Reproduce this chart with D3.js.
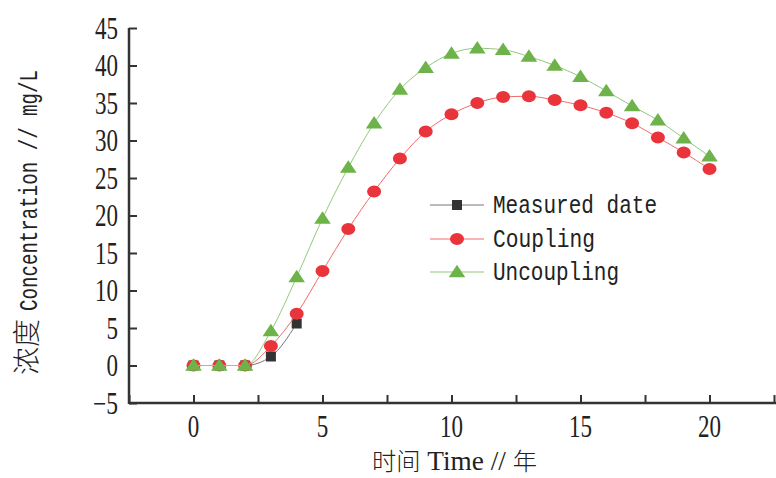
<!DOCTYPE html>
<html>
<head>
<meta charset="utf-8">
<script src="https://cdn.jsdelivr.net/npm/d3@7"></script>
<style>
  body { margin: 0; background: #fff; }
</style>
</head>
<body>
<script>
// data
var years = [0, 1, 2, 3, 4, 5, 6, 7, 8, 9, 10, 11, 12, 13, 14, 15, 16, 17, 18, 19, 20];
var measuredYears = [0, 1, 2, 3, 4];
var measured = [0, 0, 0, 1.2, 5.6];
var coupling = [0, 0, 0, 2.6, 6.9, 12.6, 18.2, 23.2, 27.6, 31.2, 33.5, 35.0, 35.8, 35.9, 35.4, 34.7, 33.7, 32.3, 30.4, 28.4, 26.2];
var uncoupling = [0, 0, 0, 4.6, 11.8, 19.6, 26.4, 32.3, 36.8, 39.7, 41.6, 42.3, 42.1, 41.2, 40.0, 38.5, 36.6, 34.6, 32.7, 30.3, 27.9];
var xTicks = [-2.5, 0, 2.5, 5, 7.5, 10, 12.5, 15, 17.5, 20, 22.5];
var xLabels = [0, 5, 10, 15, 20];
var yTicks = [-5, 0, 5, 10, 15, 20, 25, 30, 35, 40, 45];

var svg = d3.select("body").append("svg")
            .attr("width", 776)
            .attr("height", 478);

var x = d3.scaleLinear().domain([-2.5, 22.5]).range([129, 774]);
var y = d3.scaleLinear().domain([-5, 45]).range([403, 28]);

var serif = "'Liberation Serif', 'Times New Roman', serif";
var mono = "'Liberation Mono', monospace";
var cjk = "'Noto Sans CJK SC', sans-serif";

// digits in the picture are tall and narrow
function labelLen(s) { return s.length * 11.5 + (s.charAt(0) === "\u2212" ? 2 : 0); }
function fmt(d) { return d < 0 ? "\u2212" + (-d) : String(d); }

// x axis
var xAxis = svg.append("g")
               .attr("transform", "translate(0," + y(-5) + ")")
               .call(d3.axisBottom(x).tickValues(xTicks).tickSize(-8).tickFormat(""));
xAxis.select(".domain").attr("stroke", "#333").attr("stroke-width", 2.5).attr("d", "M" + x(-2.5) + ",0H776");
xAxis.selectAll(".tick line").attr("stroke", "#333").attr("stroke-width", 2);

svg.selectAll(".xlab")
   .data(xLabels)
   .enter().append("text")
   .attr("x", function (d) { return x(d) - labelLen(fmt(d)) / 2; })
   .attr("y", 437)
   .attr("textLength", function (d) { return labelLen(fmt(d)); })
   .attr("lengthAdjust", "spacingAndGlyphs")
   .style("font-family", serif)
   .style("font-size", "31px")
   .attr("fill", "#222")
   .text(fmt);

// y axis
var yAxis = svg.append("g")
               .attr("transform", "translate(" + x(-2.5) + ",0)")
               .call(d3.axisLeft(y).tickValues(yTicks).tickSize(-8).tickFormat(""));
yAxis.select(".domain").attr("stroke", "#333").attr("stroke-width", 2.5).attr("d", "M0," + y(45) + "V" + (y(-5) + 1));
yAxis.selectAll(".tick line").attr("stroke", "#333").attr("stroke-width", 2);

svg.selectAll(".ylab")
   .data(yTicks)
   .enter().append("text")
   .attr("x", function (d) { return 118 - labelLen(fmt(d)); })
   .attr("y", function (d) { return y(d) + 10.5; })
   .attr("textLength", function (d) { return labelLen(fmt(d)); })
   .attr("lengthAdjust", "spacingAndGlyphs")
   .style("font-family", serif)
   .style("font-size", "31px")
   .attr("fill", "#222")
   .text(fmt);

// axis titles
var yt = svg.append("g").attr("transform", "translate(37,375) rotate(-90)");
yt.append("text")
  .attr("x", 0).attr("y", 0)
  .attr("textLength", 56)
  .attr("lengthAdjust", "spacingAndGlyphs")
  .attr("fill", "#222")
  .style("font-family", cjk).style("font-weight", 300).style("font-size", "28px")
  .text("浓度");
yt.append("text")
  .attr("x", 64).attr("y", 0)
  .attr("textLength", 241)
  .attr("lengthAdjust", "spacingAndGlyphs")
  .attr("fill", "#222")
  .style("font-family", mono).style("font-size", "25px")
  .text("Concentration // mg/L");

var xt = svg.append("text")
            .attr("x", 372)
            .attr("y", 470)
            .attr("textLength", 165)
            .attr("lengthAdjust", "spacingAndGlyphs")
            .attr("fill", "#222");
xt.append("tspan").style("font-family", cjk).style("font-weight", 300).style("font-size", "24px").text("时间");
xt.append("tspan").style("font-family", serif).style("font-size", "27px").text(" Time // ");
xt.append("tspan").style("font-family", cjk).style("font-weight", 300).style("font-size", "24px").text("年");

// lines
var line = d3.line()
             .x(function (d) { return x(d[0]); })
             .y(function (d) { return y(d[1]); })
             .curve(d3.curveMonotoneX);

function pairs(xs, ys) { return xs.map(function (d, i) { return [d, ys[i]]; }); }

var tri = d3.symbol().type(d3.symbolTriangle).size(90);

function squares(g, pts) {
  g.selectAll("rect").data(pts).enter().append("rect")
   .attr("x", function (d) { return x(d[0]) - 5; })
   .attr("y", function (d) { return y(d[1]) - 5; })
   .attr("width", 10).attr("height", 10)
   .attr("fill", "#333");
}
function circles(g, pts) {
  g.selectAll("ellipse").data(pts).enter().append("ellipse")
   .attr("cx", function (d) { return x(d[0]); })
   .attr("cy", function (d) { return y(d[1]); })
   .attr("rx", 7).attr("ry", 6)
   .attr("fill", "#e8343a");
}
function triangles(g, pts) {
  g.selectAll("path.m").data(pts).enter().append("path")
   .attr("class", "m")
   .attr("d", tri)
   .attr("transform", function (d) { return "translate(" + x(d[0]) + "," + (y(d[1]) + 1) + ") scale(1.15,1)"; })
   .attr("fill", "#6db34a");
}

var mPts = pairs(measuredYears, measured);
var cPts = pairs(years, coupling);
var uPts = pairs(years, uncoupling);

var gM = svg.append("g");
gM.append("path").datum(mPts).attr("d", line).attr("fill", "none").attr("stroke", "#777").attr("stroke-width", 1);
squares(gM, mPts);

var gC = svg.append("g");
gC.append("path").datum(cPts).attr("d", line).attr("fill", "none").attr("stroke", "#f26a6a").attr("stroke-width", 1);
circles(gC, cPts);

var gU = svg.append("g");
gU.append("path").datum(uPts).attr("d", line).attr("fill", "none").attr("stroke", "#92c97a").attr("stroke-width", 1);
triangles(gU, uPts);

// legend
var legendNames = ["Measured date", "Coupling", "Uncoupling"];
var legendRows = [205, 239, 272];
var legendLine = ["#777", "#f26a6a", "#92c97a"];
var legendLen = [164, 102, 126];

var lg = svg.append("g");
legendNames.forEach(function (name, i) {
  var ly = legendRows[i];
  lg.append("line").attr("x1", 430).attr("x2", 484).attr("y1", ly).attr("y2", ly)
    .attr("stroke", legendLine[i]).attr("stroke-width", 1);
  if (i === 0) {
    lg.append("rect").attr("x", 452).attr("y", ly - 5).attr("width", 10).attr("height", 10).attr("fill", "#333");
  } else if (i === 1) {
    lg.append("ellipse").attr("cx", 457).attr("cy", ly).attr("rx", 7).attr("ry", 6).attr("fill", "#e8343a");
  } else {
    lg.append("path").attr("d", tri).attr("transform", "translate(457," + (ly + 1) + ") scale(1.15,1)").attr("fill", "#6db34a");
  }
  lg.append("text")
    .attr("x", 493)
    .attr("y", ly + 8)
    .attr("textLength", legendLen[i])
    .attr("lengthAdjust", "spacingAndGlyphs")
    .style("font-family", mono)
    .style("font-size", "26px")
    .attr("fill", "#222")
    .text(name);
});
</script>
</body>
</html>
